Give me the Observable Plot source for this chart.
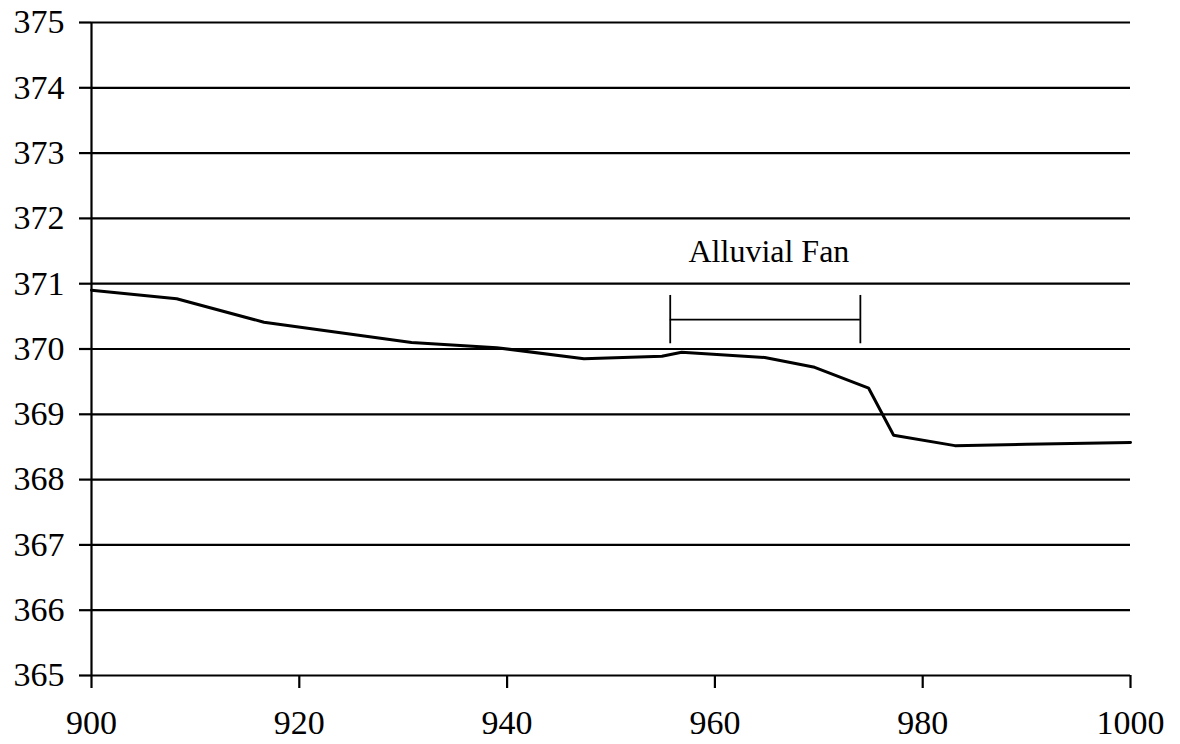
<!DOCTYPE html>
<html>
<head>
<meta charset="utf-8">
<script src="https://cdn.jsdelivr.net/npm/d3@7"></script>
<script src="https://cdn.jsdelivr.net/npm/@observablehq/plot@0.6"></script>
<style>
  html, body { margin: 0; padding: 0; background: #fff; }
  #chart svg { display: block; }
</style>
</head>
<body>
<div id="chart"></div>
<script>
// Channel-bed elevation profile along the reach
const distance  = [900, 908.2, 916.6, 930.8, 939, 947.4, 954.9, 956.8, 964.8, 969.6, 974.8, 977.2, 983.1, 990, 1000];
const elevation = [370.90, 370.77, 370.41, 370.10, 370.02, 369.85, 369.89, 369.95, 369.87, 369.72, 369.40, 368.68, 368.52, 368.54, 368.57];

// Axis ticks
const xTicks = [900, 920, 940, 960, 980, 1000];
const yTicks = [365, 366, 367, 368, 369, 370, 371, 372, 373, 374, 375];

// Alluvial fan extent bracket
const fanLabel = ["Alluvial Fan"];
const fanStart = 955.7;
const fanEnd = 974.0;
const fanLevel = 370.45;
const fanTop = 370.82;
const fanBottom = 370.08;
const fanLabelX = 965.2;
const fanLabelY = 371.33;

const profile = distance.map((d, i) => ({distance: d, elevation: elevation[i]}));

const chart = Plot.plot({
  width: 1180,
  height: 744,
  marginLeft: 91,
  marginRight: 50,
  marginTop: 22,
  marginBottom: 69,
  style: {fontFamily: "'Liberation Serif', 'Times New Roman', serif", fontSize: "34px", color: "black", background: "white"},
  x: {domain: [900, 1000]},
  y: {domain: [365, 375]},
  marks: [
    Plot.ruleY(yTicks, {stroke: "black", strokeWidth: 2.2}),
    Plot.ruleX([900], {stroke: "black", strokeWidth: 2.2}),
    Plot.axisY({ticks: yTicks, tickSize: 12, tickPadding: 15, tickFormat: d => String(d), label: null, strokeWidth: 2.2, fontSize: 34}),
    Plot.axisX({ticks: xTicks, tickSize: 13, tickPadding: 21, tickFormat: d => String(d), label: null, strokeWidth: 2.2, fontSize: 34}),
    Plot.line(profile, {x: "distance", y: "elevation", stroke: "black", strokeWidth: 3, strokeLinejoin: "miter"}),
    Plot.ruleY([fanLevel], {x1: fanStart, x2: fanEnd, stroke: "black", strokeWidth: 1.8}),
    Plot.ruleX([fanStart, fanEnd], {y1: fanBottom, y2: fanTop, stroke: "black", strokeWidth: 1.8}),
    Plot.text(fanLabel, {x: fanLabelX, y: fanLabelY, text: d => d, fontSize: 32, lineAnchor: "bottom", fill: "black"})
  ]
});

document.getElementById("chart").appendChild(chart);
</script>
</body>
</html>
